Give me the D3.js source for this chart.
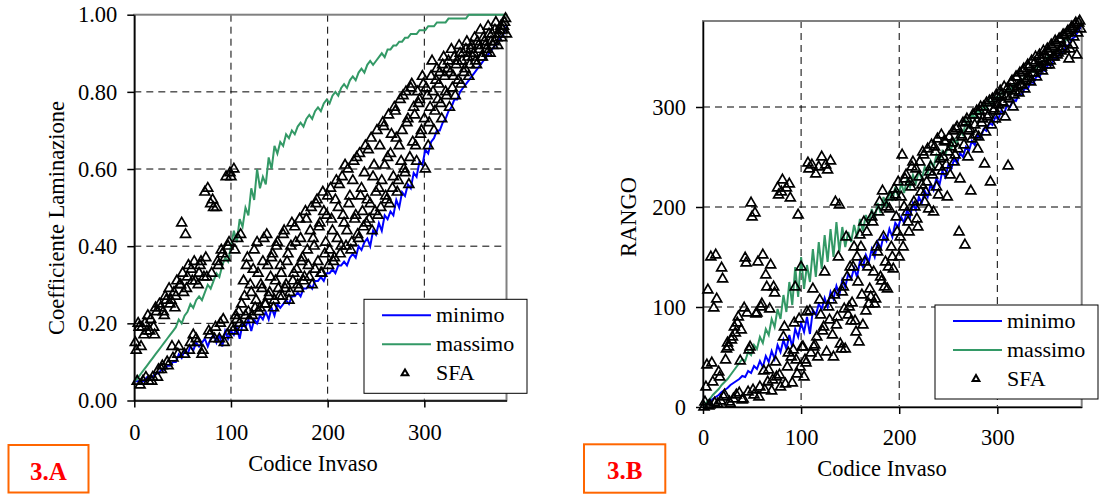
<!DOCTYPE html>
<html>
<head>
<meta charset="utf-8">
<script src="https://cdn.jsdelivr.net/npm/d3@7"></script>
<style>
  body { margin: 0; background: #fff; }
  svg text { font-family: "Liberation Serif", "Times New Roman", serif; fill: #000; }
</style>
</head>
<body>
<svg id="chart" width="1099" height="494"></svg>
<script>
// axis ticks and labels
const xTicks = [0, 100, 200, 300];
const coefTicks = [0, 0.2, 0.4, 0.6, 0.8, 1.0];
const rangoTicks = [0, 100, 200, 300];
const legendLabels = ["minimo", "massimo", "SFA"];

// panel 3.A - coefficiente di laminazione
// lines: one value every 3 codes (1,4,7,...); SFA: odd codes and even codes
const coefMinimo = [
  0.05,0.05,0.05,0.05,0.06,0.06,0.06,0.07,0.07,0.08,
  0.08,0.09,0.09,0.10,0.10,0.12,0.11,0.13,0.12,0.14,
  0.13,0.15,0.14,0.15,0.16,0.14,0.16,0.17,0.15,0.17,
  0.14,0.18,0.16,0.18,0.17,0.19,0.16,0.20,0.19,0.21,
  0.18,0.21,0.20,0.22,0.21,0.23,0.21,0.24,0.22,0.25,
  0.24,0.25,0.26,0.25,0.27,0.27,0.28,0.27,0.29,0.29,
  0.30,0.29,0.31,0.31,0.32,0.31,0.33,0.33,0.34,0.33,
  0.35,0.35,0.36,0.35,0.37,0.38,0.37,0.40,0.39,0.41,
  0.42,0.40,0.44,0.43,0.46,0.44,0.48,0.47,0.49,0.48,
  0.52,0.50,0.54,0.53,0.56,0.55,0.59,0.58,0.62,0.61,
  0.65,0.64,0.67,0.68,0.70,0.70,0.72,0.73,0.75,0.76,
  0.78,0.78,0.80,0.81,0.82,0.83,0.84,0.85,0.86,0.87,
  0.88,0.89,0.90,0.91,0.92,0.93,0.94,0.95,0.97
];
const coefMassimo = [
  0.05,0.06,0.07,0.08,0.09,0.10,0.11,0.12,0.13,0.14,
  0.15,0.16,0.17,0.18,0.19,0.21,0.20,0.22,0.23,0.25,
  0.24,0.26,0.27,0.26,0.28,0.30,0.29,0.31,0.33,0.32,
  0.35,0.37,0.36,0.40,0.44,0.41,0.47,0.45,0.50,0.48,
  0.55,0.52,0.60,0.55,0.58,0.56,0.63,0.60,0.66,0.64,
  0.67,0.66,0.69,0.68,0.70,0.69,0.71,0.72,0.71,0.73,
  0.74,0.73,0.75,0.76,0.75,0.77,0.78,0.77,0.79,0.80,
  0.79,0.81,0.82,0.81,0.83,0.84,0.83,0.85,0.86,0.85,
  0.87,0.88,0.87,0.88,0.89,0.90,0.89,0.91,0.91,0.92,
  0.92,0.93,0.93,0.94,0.94,0.95,0.95,0.95,0.96,0.96,
  0.96,0.97,0.97,0.97,0.98,0.98,0.98,0.98,0.99,0.99,
  0.99,0.99,0.99,0.99,0.99,1.00,1.00,1.00,1.00,1.00,
  1.00,1.00,1.00,1.00,1.00,1.00,1.00,1.00,1.00
];
const coefSFAOdd = [
  0.15,0.05,0.19,0.14,0.05,0.20,0.18,0.05,0.21,0.06,
  0.17,0.23,0.08,0.24,0.09,0.22,0.26,0.09,0.25,0.14,
  0.28,0.27,0.12,0.30,0.46,0.28,0.43,0.32,0.13,0.34,
  0.17,0.31,0.15,0.33,0.36,0.13,0.54,0.32,0.18,0.51,
  0.52,0.16,0.50,0.35,0.20,0.38,0.15,0.58,0.40,0.59,
  0.19,0.60,0.22,0.42,0.20,0.25,0.31,0.22,0.37,0.21,
  0.28,0.34,0.24,0.41,0.23,0.30,0.36,0.25,0.43,0.27,
  0.32,0.38,0.26,0.40,0.29,0.35,0.27,0.44,0.30,0.38,
  0.28,0.46,0.33,0.41,0.30,0.47,0.36,0.31,0.49,0.39,
  0.32,0.50,0.42,0.34,0.52,0.45,0.33,0.54,0.38,0.48,
  0.35,0.55,0.44,0.37,0.57,0.50,0.38,0.58,0.46,0.40,
  0.60,0.53,0.41,0.62,0.48,0.43,0.64,0.55,0.45,0.66,
  0.52,0.47,0.68,0.58,0.49,0.70,0.55,0.50,0.72,0.61,
  0.52,0.74,0.64,0.55,0.76,0.68,0.57,0.78,0.70,0.60,
  0.80,0.73,0.63,0.82,0.76,0.66,0.80,0.78,0.70,0.82,
  0.60,0.79,0.72,0.84,0.80,0.75,0.86,0.82,0.77,0.87,
  0.84,0.79,0.88,0.85,0.81,0.89,0.87,0.83,0.90,0.88,
  0.85,0.91,0.89,0.87,0.92,0.90,0.88,0.93,0.91,0.89,
  0.94,0.92,0.90,0.95,0.93,0.92,0.96,0.94,0.95,0.97,
  0.96,0.98,0.95
];
const coefSFAEven = [
  0.13,0.20,0.04,0.19,0.17,0.06,0.22,0.18,0.05,0.19,
  0.24,0.06,0.25,0.08,0.23,0.27,0.10,0.29,0.26,0.11,
  0.24,0.31,0.14,0.30,0.33,0.12,0.29,0.35,0.15,0.31,
  0.36,0.16,0.30,0.35,0.12,0.32,0.37,0.55,0.17,0.33,
  0.50,0.19,0.36,0.16,0.39,0.21,0.37,0.17,0.41,0.58,
  0.18,0.39,0.21,0.23,0.43,0.19,0.27,0.35,0.23,0.30,
  0.22,0.39,0.26,0.33,0.24,0.29,0.42,0.25,0.35,0.28,
  0.37,0.24,0.31,0.41,0.27,0.33,0.43,0.29,0.36,0.26,
  0.40,0.31,0.45,0.34,0.29,0.42,0.37,0.32,0.47,0.35,
  0.44,0.30,0.40,0.51,0.36,0.46,0.33,0.49,0.41,0.53,
  0.39,0.47,0.36,0.52,0.42,0.56,0.40,0.48,0.61,0.44,
  0.51,0.39,0.57,0.47,0.63,0.42,0.53,0.49,0.59,0.46,
  0.65,0.51,0.44,0.61,0.54,0.48,0.66,0.57,0.71,0.53,
  0.63,0.51,0.69,0.58,0.75,0.54,0.66,0.62,0.79,0.59,
  0.72,0.56,0.81,0.67,0.74,0.62,0.77,0.69,0.84,0.73,
  0.81,0.66,0.76,0.88,0.70,0.83,0.78,0.85,0.73,0.89,
  0.80,0.86,0.76,0.91,0.84,0.79,0.88,0.92,0.82,0.90,
  0.86,0.93,0.84,0.91,0.89,0.94,0.87,0.92,0.96,0.89,
  0.93,0.91,0.97,0.90,0.95,0.93,0.98,0.92,0.96,0.94,
  0.97,0.99
];

// panel 3.B - rango
const rangoMinimo = [
  1,3,5,8,10,12,15,17,19,22,
  24,26,28,31,30,36,34,41,38,46,
  40,51,45,56,48,62,55,67,58,72,
  60,78,70,84,75,90,73,97,92,103,
  98,109,100,115,108,121,112,127,120,133,
  128,139,130,146,140,152,145,158,150,165,
  158,171,166,178,170,184,180,190,184,197,
  190,204,197,210,204,216,210,223,217,229,
  222,236,230,242,238,248,244,254,250,260,
  256,266,262,272,269,278,276,284,282,290,
  288,296,294,302,300,307,306,313,312,319,
  318,325,324,331,330,337,336,343,342,349,
  348,355,355,361,362,368,370,375,380
];
const rangoMassimo = [
  1,5,8,12,15,18,22,25,28,32,
  36,40,44,48,46,55,52,62,58,70,
  64,78,72,88,80,98,88,112,95,125,
  102,140,110,150,118,142,125,158,130,165,
  138,172,145,178,150,185,155,180,160,175,
  165,182,170,188,176,192,182,198,188,204,
  194,210,200,216,206,220,210,224,214,228,
  220,232,224,236,228,240,234,246,240,252,
  246,256,252,262,258,268,264,276,272,286,
  280,294,288,298,292,302,298,306,302,310,
  308,314,312,318,317,322,321,326,325,331,
  330,336,335,341,340,346,346,351,351,356,
  356,361,362,367,368,373,375,379,384
];
const rangoSFAOdd = [
  0,20,117,2,44,99,152,3,30,139,
  10,47,64,5,67,8,74,84,14,77,
  8,149,94,57,204,17,194,94,10,100,
  152,17,120,37,142,27,114,30,212,20,
  227,80,219,54,209,24,84,47,192,40,
  60,30,44,244,96,242,60,233,50,107,
  250,80,242,237,87,107,50,205,90,202,
  58,120,58,130,100,86,140,86,150,65,
  160,82,145,175,103,110,185,103,160,195,
  130,216,120,200,140,210,150,218,190,225,
  170,252,200,232,185,225,240,205,238,180,
  245,222,252,215,258,235,262,195,255,268,
  240,272,250,265,210,270,260,276,252,280,
  175,272,284,162,288,276,216,292,282,296,
  270,300,288,243,304,292,225,308,298,312,
  302,316,305,320,310,241,318,326,312,330,
  320,334,322,338,326,342,330,346,334,350,
  338,352,340,356,345,358,342,362,350,366,
  352,368,356,372,358,374,348,378,362,382,
  352,384,378
];
const rangoSFAEven = [
  5,42,1,150,25,4,108,35,6,128,
  12,58,60,3,70,80,12,90,46,7,
  99,144,15,60,190,12,93,145,20,103,
  36,132,25,98,16,120,45,219,32,215,
  70,23,40,223,50,57,120,33,88,140,
  60,47,95,238,54,118,62,70,240,92,
  76,135,55,100,246,72,112,82,150,63,
  115,98,170,92,140,104,160,75,125,172,
  112,185,96,140,118,190,135,108,155,205,
  126,170,145,118,198,160,138,212,175,150,
  210,160,228,195,175,220,245,200,188,230,
  215,255,205,225,198,240,232,260,220,212,
  248,236,266,242,255,232,264,245,278,258,
  228,270,262,285,250,278,268,292,272,258,
  296,284,300,275,290,306,282,296,288,310,
  296,312,304,290,318,308,324,300,316,330,
  314,322,336,318,328,340,325,334,344,330,
  340,348,336,352,342,355,346,360,350,364,
  354,368,360,372,364,376,358,380,370,384,
  374,386
];

// codice invaso for each value
const lineCodes = coefMinimo.map((_, i) => 1 + 3 * i);

const svg = d3.select('#chart');
const BLUE = '#0000FF', GREEN = '#339966';

function panel(p) {
  const x = d3.scaleLinear().domain([0, p.xMax]).range([p.left, p.right]);
  const y = d3.scaleLinear().domain([0, p.yMax]).range([p.bottom, p.top]);
  const g = svg.append('g');

  // dashed grid
  g.selectAll('.hg').data(p.yTicks.filter(d => d > 0 && d < p.yMax)).join('line')
    .attr('x1', p.left).attr('x2', p.right)
    .attr('y1', d => y(d)).attr('y2', d => y(d))
    .attr('stroke', '#000').attr('stroke-width', 1).attr('stroke-dasharray', '7,5');
  g.selectAll('.vg').data(xTicks.filter(d => d > 0)).join('line')
    .attr('x1', d => x(d)).attr('x2', d => x(d))
    .attr('y1', p.top).attr('y2', p.bottom)
    .attr('stroke', '#000').attr('stroke-width', 1).attr('stroke-dasharray', '7,5');

  // plot frame
  g.append('rect')
    .attr('x', p.left).attr('y', p.top)
    .attr('width', p.right - p.left).attr('height', p.bottom - p.top)
    .attr('fill', 'none').attr('stroke', '#808080').attr('stroke-width', 2);

  // series
  const line = d3.line().x((d, i) => x(lineCodes[i])).y(d => y(d));
  g.append('path').attr('d', line(p.minimo))
    .attr('fill', 'none').attr('stroke', BLUE).attr('stroke-width', 2);
  g.append('path').attr('d', line(p.massimo))
    .attr('fill', 'none').attr('stroke', GREEN).attr('stroke-width', 2);

  const pts = p.sfaOdd.map((v, i) => [1 + 2 * i, v])
    .concat(p.sfaEven.map((v, i) => [2 + 2 * i, v]));
  const tri = d3.symbol().type(d3.symbolTriangle).size(42);
  g.selectAll('.sfa').data(pts).join('path')
    .attr('d', tri)
    .attr('transform', d => `translate(${x(d[0])},${y(d[1])})`)
    .attr('fill', 'none').attr('stroke', '#000').attr('stroke-width', 1.7);

  // axes
  const ax = g.append('g').attr('transform', `translate(0,${p.bottom})`)
    .call(d3.axisBottom(x).tickValues(xTicks).tickSize(7).tickSizeOuter(0).tickPadding(p.xPad));
  const ay = g.append('g').attr('transform', `translate(${p.left},0)`)
    .call(d3.axisLeft(y).tickValues(p.yTicks).tickFormat(p.yFormat).tickSize(7).tickSizeOuter(0).tickPadding(10));
  [ax, ay].forEach(a => {
    a.attr('font-size', 22.5).attr('font-family', '"Liberation Serif", serif');
    a.select('.domain').attr('stroke', '#000').attr('stroke-width', 1.5);
    a.selectAll('.tick line').attr('stroke', '#000').attr('stroke-width', 1.5);
    a.selectAll('.tick text').attr('fill', '#000');
  });

  // axis titles
  g.append('text').attr('x', p.xTitle[0]).attr('y', p.xTitle[1])
    .attr('text-anchor', 'middle').attr('font-size', 22.5).text('Codice Invaso');
  g.append('text')
    .attr('transform', `translate(${p.yTitle[0]},${p.yTitle[1]}) rotate(-90)`)
    .attr('text-anchor', 'middle').attr('font-size', 22.5).text(p.yLabel);

  // legend
  const lg = g.append('g').attr('transform', `translate(${p.legend[0]},${p.legend[1]})`);
  lg.append('rect').attr('width', 163).attr('height', 94)
    .attr('fill', '#fff').attr('stroke', '#000').attr('stroke-width', 1);
  const rows = [16, 45, 74];
  [BLUE, GREEN].forEach((c, i) => {
    lg.append('line').attr('x1', 18).attr('x2', 67).attr('y1', rows[i]).attr('y2', rows[i])
      .attr('stroke', c).attr('stroke-width', 2);
  });
  lg.append('path').attr('d', d3.symbol().type(d3.symbolTriangle).size(20)())
    .attr('transform', `translate(41,${rows[2]})`)
    .attr('fill', 'none').attr('stroke', '#000').attr('stroke-width', 2);
  legendLabels.forEach((t, i) => {
    lg.append('text').attr('x', 72).attr('y', rows[i] + 6.5)
      .attr('font-size', 22).text(t);
  });

  // panel tag
  g.append('rect').attr('x', p.tag[0]).attr('y', p.tag[1]).attr('width', p.tag[2]).attr('height', p.tag[3])
    .attr('fill', 'none').attr('stroke', '#FF6600').attr('stroke-width', 2);
  g.append('text').attr('x', p.tag[0] + p.tag[2] / 2).attr('y', p.tag[1] + 35)
    .attr('text-anchor', 'middle').attr('font-size', 25).attr('font-weight', 'bold')
    .style('fill', '#FF0000').text(p.tagLabel);
}

panel({
  left: 134.3, right: 506.5, top: 14.7, bottom: 400.5,
  xMax: 385, yMax: 1, yTicks: coefTicks, yFormat: d3.format('.2f'),
  minimo: coefMinimo, massimo: coefMassimo, sfaOdd: coefSFAOdd, sfaEven: coefSFAEven,
  xPad: 16.5, xTitle: [313, 470.7], yTitle: [64, 218], yLabel: 'Coefficiente Laminazione',
  legend: [364, 299.3], tag: [8.5, 445, 80, 47.5], tagLabel: '3.A'
});

panel({
  left: 703, right: 1081.7, top: 21, bottom: 407,
  xMax: 386, yMax: 386, yTicks: rangoTicks, yFormat: d3.format('d'),
  minimo: rangoMinimo, massimo: rangoMassimo, sfaOdd: rangoSFAOdd, sfaEven: rangoSFAEven,
  xPad: 14.7, xTitle: [882, 476], yTitle: [636, 217], yLabel: 'RANGO',
  legend: [935, 305], tag: [584, 444.3, 81.3, 48.4], tagLabel: '3.B'
});
</script>
</body>
</html>
